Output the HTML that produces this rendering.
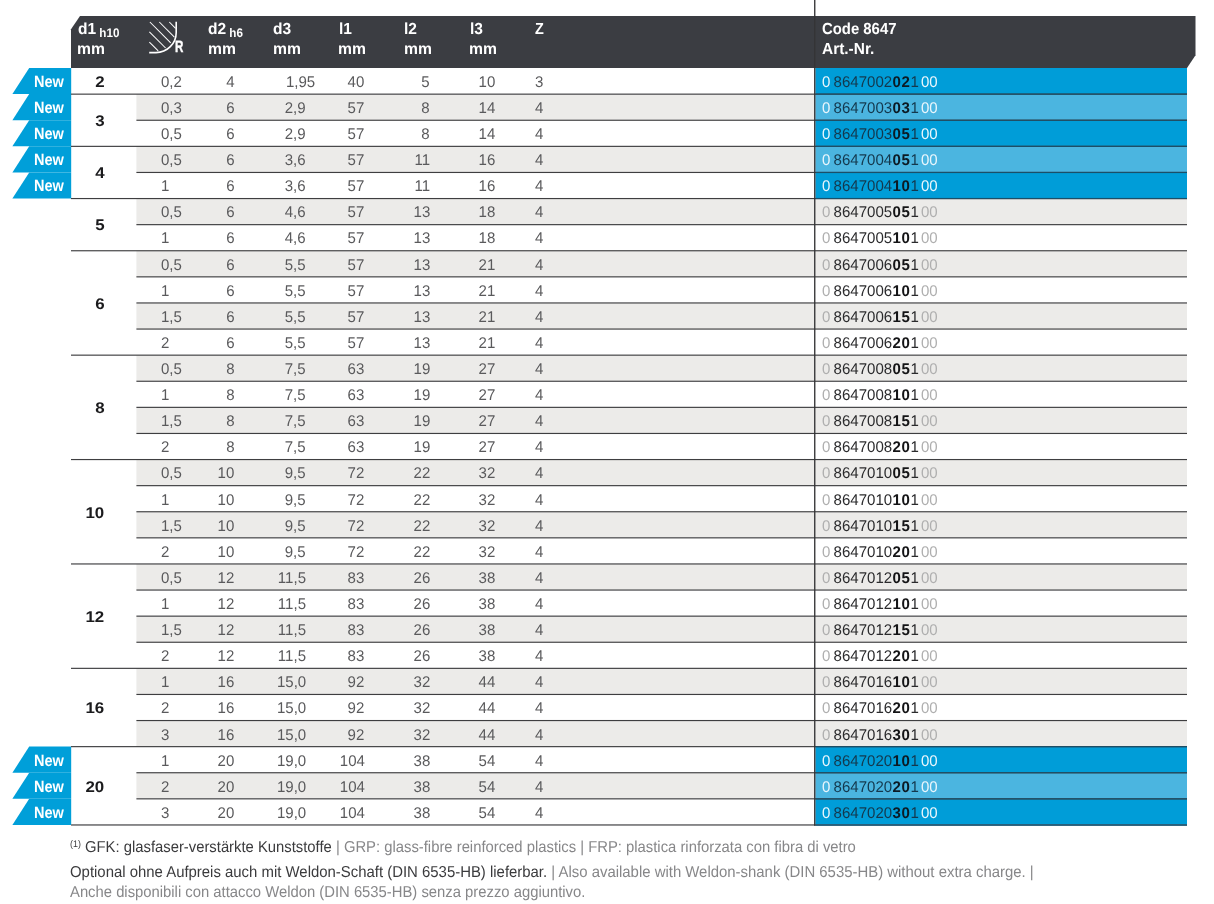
<!DOCTYPE html>
<html><head><meta charset="utf-8"><title>Code 8647</title>
<style>html,body{margin:0;padding:0;background:#fff;}
html{width:1214px;height:904px;overflow:hidden;}
body{width:1214px;height:904px;position:relative;overflow:hidden;font-family:"Liberation Sans",sans-serif;}
#w{position:absolute;left:0;top:0;width:1214px;height:904px;overflow:hidden;will-change:transform;text-rendering:geometricPrecision;}
#s{position:absolute;left:0;top:0;}
.t{position:absolute;white-space:nowrap;line-height:30px;height:30px;}
.h{font-weight:bold;color:#fff;}
.d{color:#5a5a5c;}
.b{font-weight:bold;color:#1b1b1d;}
.c{color:#2b2b2d;word-spacing:-1.0px;}
.c b{color:#141416;letter-spacing:0.55px;margin-left:0.5px;}
.c .z{margin-left:2.2px;}
.c i{font-style:normal;color:#afafaf;}
.cb{color:#14384d;}
.cb b{color:#0c1a24;}
.cb i{color:#eaf6fc;}
.f{color:#878789;}
.f em{font-style:normal;color:#3b3b3d;}
</style></head><body><div id="w">
<svg id="s" width="1214" height="904" viewBox="0 0 1214 904">
<rect x="815.40" y="68.00" width="371.60" height="26.15" fill="#009dd8"/>
<polygon points="29.2,68.00 71.2,68.00 71.2,94.10 12.4,94.10" fill="#009fd9"/>
<rect x="136.40" y="94.10" width="1050.60" height="26.10" fill="#ecebe9"/>
<rect x="815.40" y="94.10" width="371.60" height="26.15" fill="#4bb5e0"/>
<polygon points="29.2,94.10 71.2,94.10 71.2,120.20 12.4,120.20" fill="#009fd9"/>
<rect x="815.40" y="120.20" width="371.60" height="26.15" fill="#009dd8"/>
<polygon points="29.2,120.20 71.2,120.20 71.2,146.30 12.4,146.30" fill="#009fd9"/>
<rect x="136.40" y="146.30" width="1050.60" height="26.10" fill="#ecebe9"/>
<rect x="815.40" y="146.30" width="371.60" height="26.15" fill="#4bb5e0"/>
<polygon points="29.2,146.30 71.2,146.30 71.2,172.40 12.4,172.40" fill="#009fd9"/>
<rect x="815.40" y="172.40" width="371.60" height="26.15" fill="#009dd8"/>
<polygon points="29.2,172.40 71.2,172.40 71.2,198.50 12.4,198.50" fill="#009fd9"/>
<rect x="136.40" y="198.50" width="1050.60" height="26.10" fill="#ecebe9"/>
<rect x="136.40" y="250.70" width="1050.60" height="26.10" fill="#ecebe9"/>
<rect x="136.40" y="302.90" width="1050.60" height="26.10" fill="#ecebe9"/>
<rect x="136.40" y="355.10" width="1050.60" height="26.10" fill="#ecebe9"/>
<rect x="136.40" y="407.30" width="1050.60" height="26.10" fill="#ecebe9"/>
<rect x="136.40" y="459.50" width="1050.60" height="26.10" fill="#ecebe9"/>
<rect x="136.40" y="511.70" width="1050.60" height="26.10" fill="#ecebe9"/>
<rect x="136.40" y="563.90" width="1050.60" height="26.10" fill="#ecebe9"/>
<rect x="136.40" y="616.10" width="1050.60" height="26.10" fill="#ecebe9"/>
<rect x="136.40" y="668.30" width="1050.60" height="26.10" fill="#ecebe9"/>
<rect x="136.40" y="720.50" width="1050.60" height="26.10" fill="#ecebe9"/>
<rect x="815.40" y="746.60" width="371.60" height="26.15" fill="#009dd8"/>
<polygon points="29.2,746.60 71.2,746.60 71.2,772.70 12.4,772.70" fill="#009fd9"/>
<rect x="136.40" y="772.70" width="1050.60" height="26.10" fill="#ecebe9"/>
<rect x="815.40" y="772.70" width="371.60" height="26.15" fill="#4bb5e0"/>
<polygon points="29.2,772.70 71.2,772.70 71.2,798.80 12.4,798.80" fill="#009fd9"/>
<rect x="815.40" y="798.80" width="371.60" height="26.15" fill="#009dd8"/>
<polygon points="29.2,798.80 71.2,798.80 71.2,824.90 12.4,824.90" fill="#009fd9"/>
<polygon points="80,16 1195.5,16 1195.5,55.2 1187,67.95 71,67.95 71,29.3" fill="#3b3d42"/>
<rect x="71.00" y="93.57" width="1116.00" height="1.15" fill="#3e3e40"/>
<rect x="815.40" y="93.57" width="371.60" height="1.15" fill="#1b4f68"/>
<rect x="136.40" y="119.67" width="1050.60" height="1.15" fill="#3e3e40"/>
<rect x="815.40" y="119.67" width="371.60" height="1.15" fill="#1b4f68"/>
<rect x="71.00" y="145.78" width="1116.00" height="1.15" fill="#3e3e40"/>
<rect x="815.40" y="145.78" width="371.60" height="1.15" fill="#1b4f68"/>
<rect x="136.40" y="171.88" width="1050.60" height="1.15" fill="#3e3e40"/>
<rect x="815.40" y="171.88" width="371.60" height="1.15" fill="#1b4f68"/>
<rect x="71.00" y="197.98" width="1116.00" height="1.15" fill="#3e3e40"/>
<rect x="815.40" y="197.98" width="371.60" height="1.15" fill="#1b4f68"/>
<rect x="136.40" y="224.08" width="1050.60" height="1.15" fill="#3e3e40"/>
<rect x="71.00" y="250.18" width="1116.00" height="1.15" fill="#3e3e40"/>
<rect x="136.40" y="276.28" width="1050.60" height="1.15" fill="#3e3e40"/>
<rect x="136.40" y="302.38" width="1050.60" height="1.15" fill="#3e3e40"/>
<rect x="136.40" y="328.48" width="1050.60" height="1.15" fill="#3e3e40"/>
<rect x="71.00" y="354.58" width="1116.00" height="1.15" fill="#3e3e40"/>
<rect x="136.40" y="380.68" width="1050.60" height="1.15" fill="#3e3e40"/>
<rect x="136.40" y="406.78" width="1050.60" height="1.15" fill="#3e3e40"/>
<rect x="136.40" y="432.88" width="1050.60" height="1.15" fill="#3e3e40"/>
<rect x="71.00" y="458.98" width="1116.00" height="1.15" fill="#3e3e40"/>
<rect x="136.40" y="485.08" width="1050.60" height="1.15" fill="#3e3e40"/>
<rect x="136.40" y="511.18" width="1050.60" height="1.15" fill="#3e3e40"/>
<rect x="136.40" y="537.27" width="1050.60" height="1.15" fill="#3e3e40"/>
<rect x="71.00" y="563.38" width="1116.00" height="1.15" fill="#3e3e40"/>
<rect x="136.40" y="589.47" width="1050.60" height="1.15" fill="#3e3e40"/>
<rect x="136.40" y="615.57" width="1050.60" height="1.15" fill="#3e3e40"/>
<rect x="136.40" y="641.67" width="1050.60" height="1.15" fill="#3e3e40"/>
<rect x="71.00" y="667.77" width="1116.00" height="1.15" fill="#3e3e40"/>
<rect x="136.40" y="693.88" width="1050.60" height="1.15" fill="#3e3e40"/>
<rect x="136.40" y="719.97" width="1050.60" height="1.15" fill="#3e3e40"/>
<rect x="71.00" y="746.07" width="1116.00" height="1.15" fill="#3e3e40"/>
<rect x="815.40" y="746.07" width="371.60" height="1.15" fill="#1b4f68"/>
<rect x="136.40" y="772.17" width="1050.60" height="1.15" fill="#3e3e40"/>
<rect x="815.40" y="772.17" width="371.60" height="1.15" fill="#1b4f68"/>
<rect x="136.40" y="798.27" width="1050.60" height="1.15" fill="#3e3e40"/>
<rect x="815.40" y="798.27" width="371.60" height="1.15" fill="#1b4f68"/>
<rect x="71.00" y="824.05" width="1116.00" height="1.8" fill="#818183"/>
<rect x="815.40" y="824.05" width="371.60" height="1.8" fill="#245f7c"/>
<rect x="814.07" y="0" width="1.35" height="825.80" fill="#343436"/>
<g fill="none" stroke="#fff" stroke-linecap="butt"><path d="M149.2,52.6 H156 A20.2,20.2 0 0 0 176.2,32.4 V21.8" stroke-width="1.6"/><g stroke-width="1.05"><path d="M149.4,42.1 L158.2,50.9"/><path d="M149.4,31.8 L165.6,48"/><path d="M149.9,22 L170.7,42.8"/><path d="M159.3,22 L174.4,37.1"/><path d="M169.3,22 L175.6,28.3"/></g></g>
</svg>
<div class="t h" style="top:15px;font-size:16px;left:77.80px;transform-origin:0 50%;transform:scaleX(0.970);">d1&nbsp;<span style="font-size:12.5px;position:relative;top:3px;display:inline-block;margin-left:-1px;transform:scaleX(0.96);transform-origin:0 50%">h10</span></div>
<div class="t h" style="top:35px;font-size:16px;left:77.30px;transform-origin:0 50%;transform:scaleX(0.980);">mm</div>
<div class="t h" style="top:15px;font-size:16px;left:208.40px;transform-origin:0 50%;transform:scaleX(0.970);">d2&nbsp;<span style="font-size:12.5px;position:relative;top:3px;display:inline-block;margin-left:-1px;transform:scaleX(0.96);transform-origin:0 50%">h6</span></div>
<div class="t h" style="top:35px;font-size:16px;left:207.80px;transform-origin:0 50%;transform:scaleX(0.980);">mm</div>
<div class="t h" style="top:15px;font-size:16px;left:273.30px;transform-origin:0 50%;transform:scaleX(0.970);">d3</div>
<div class="t h" style="top:35px;font-size:16px;left:272.90px;transform-origin:0 50%;transform:scaleX(0.980);">mm</div>
<div class="t h" style="top:15px;font-size:16px;left:338.80px;transform-origin:0 50%;transform:scaleX(0.970);">l1</div>
<div class="t h" style="top:35px;font-size:16px;left:338.40px;transform-origin:0 50%;transform:scaleX(0.980);">mm</div>
<div class="t h" style="top:15px;font-size:16px;left:404.20px;transform-origin:0 50%;transform:scaleX(0.970);">l2</div>
<div class="t h" style="top:35px;font-size:16px;left:403.80px;transform-origin:0 50%;transform:scaleX(0.980);">mm</div>
<div class="t h" style="top:15px;font-size:16px;left:469.60px;transform-origin:0 50%;transform:scaleX(0.970);">l3</div>
<div class="t h" style="top:35px;font-size:16px;left:469.20px;transform-origin:0 50%;transform:scaleX(0.980);">mm</div>
<div class="t h" style="top:15px;font-size:16px;left:534.70px;transform-origin:0 50%;transform:scaleX(0.900);">Z</div>
<div class="t h" style="top:15px;font-size:16px;left:822.40px;transform-origin:0 50%;transform:scaleX(0.930);">Code 8647</div>
<div class="t h" style="top:35px;font-size:16px;left:821.90px;transform-origin:0 50%;transform:scaleX(0.965);">Art.-Nr.</div>
<div class="t h" style="top:32px;font-size:16.5px;left:174.90px;transform-origin:0 50%;transform:scaleX(0.700);-webkit-text-stroke:0.45px #fff;">R</div>
<div class="t h" style="top:67px;font-size:16.3px;left:34.00px;transform-origin:0 50%;transform:scaleX(0.893);">New</div>
<div class="t b" style="top:68px;font-size:15.5px;right:1109.60px;transform-origin:100% 50%;transform:scaleX(1.090);">2</div>
<div class="t d" style="top:68px;font-size:15.5px;left:160.80px;transform-origin:0 50%;transform:scaleX(0.970);">0,2</div>
<div class="t d" style="top:68px;font-size:15.5px;right:979.60px;transform-origin:100% 50%;transform:scaleX(0.970);">4</div>
<div class="t d" style="top:68px;font-size:15.5px;right:898.90px;transform-origin:100% 50%;transform:scaleX(0.970);">1,95</div>
<div class="t d" style="top:68px;font-size:15.5px;right:849.40px;transform-origin:100% 50%;transform:scaleX(0.970);">40</div>
<div class="t d" style="top:68px;font-size:15.5px;right:784.10px;transform-origin:100% 50%;transform:scaleX(0.970);">5</div>
<div class="t d" style="top:68px;font-size:15.5px;right:718.50px;transform-origin:100% 50%;transform:scaleX(0.970);">10</div>
<div class="t d" style="top:68px;font-size:15.5px;left:534.60px;transform-origin:0 50%;transform:scaleX(0.970);">3</div>
<div class="t c cb" style="top:68px;font-size:15.5px;left:822.20px;transform-origin:0 50%;transform:scaleX(0.970);"><i>0</i> 8647002<b>02</b>1<i class="z">00</i></div>
<div class="t h" style="top:93px;font-size:16.3px;left:34.00px;transform-origin:0 50%;transform:scaleX(0.893);">New</div>
<div class="t b" style="top:107px;font-size:15.5px;right:1109.60px;transform-origin:100% 50%;transform:scaleX(1.090);">3</div>
<div class="t d" style="top:94px;font-size:15.5px;left:160.80px;transform-origin:0 50%;transform:scaleX(0.970);">0,3</div>
<div class="t d" style="top:94px;font-size:15.5px;right:979.60px;transform-origin:100% 50%;transform:scaleX(0.970);">6</div>
<div class="t d" style="top:94px;font-size:15.5px;right:908.30px;transform-origin:100% 50%;transform:scaleX(0.970);">2,9</div>
<div class="t d" style="top:94px;font-size:15.5px;right:849.40px;transform-origin:100% 50%;transform:scaleX(0.970);">57</div>
<div class="t d" style="top:94px;font-size:15.5px;right:784.10px;transform-origin:100% 50%;transform:scaleX(0.970);">8</div>
<div class="t d" style="top:94px;font-size:15.5px;right:718.50px;transform-origin:100% 50%;transform:scaleX(0.970);">14</div>
<div class="t d" style="top:94px;font-size:15.5px;left:534.60px;transform-origin:0 50%;transform:scaleX(0.970);">4</div>
<div class="t c cb" style="top:94px;font-size:15.5px;left:822.20px;transform-origin:0 50%;transform:scaleX(0.970);"><i>0</i> 8647003<b>03</b>1<i class="z">00</i></div>
<div class="t h" style="top:119px;font-size:16.3px;left:34.00px;transform-origin:0 50%;transform:scaleX(0.893);">New</div>
<div class="t d" style="top:120px;font-size:15.5px;left:160.80px;transform-origin:0 50%;transform:scaleX(0.970);">0,5</div>
<div class="t d" style="top:120px;font-size:15.5px;right:979.60px;transform-origin:100% 50%;transform:scaleX(0.970);">6</div>
<div class="t d" style="top:120px;font-size:15.5px;right:908.30px;transform-origin:100% 50%;transform:scaleX(0.970);">2,9</div>
<div class="t d" style="top:120px;font-size:15.5px;right:849.40px;transform-origin:100% 50%;transform:scaleX(0.970);">57</div>
<div class="t d" style="top:120px;font-size:15.5px;right:784.10px;transform-origin:100% 50%;transform:scaleX(0.970);">8</div>
<div class="t d" style="top:120px;font-size:15.5px;right:718.50px;transform-origin:100% 50%;transform:scaleX(0.970);">14</div>
<div class="t d" style="top:120px;font-size:15.5px;left:534.60px;transform-origin:0 50%;transform:scaleX(0.970);">4</div>
<div class="t c cb" style="top:120px;font-size:15.5px;left:822.20px;transform-origin:0 50%;transform:scaleX(0.970);"><i>0</i> 8647003<b>05</b>1<i class="z">00</i></div>
<div class="t h" style="top:145px;font-size:16.3px;left:34.00px;transform-origin:0 50%;transform:scaleX(0.893);">New</div>
<div class="t b" style="top:159px;font-size:15.5px;right:1109.60px;transform-origin:100% 50%;transform:scaleX(1.090);">4</div>
<div class="t d" style="top:146px;font-size:15.5px;left:160.80px;transform-origin:0 50%;transform:scaleX(0.970);">0,5</div>
<div class="t d" style="top:146px;font-size:15.5px;right:979.60px;transform-origin:100% 50%;transform:scaleX(0.970);">6</div>
<div class="t d" style="top:146px;font-size:15.5px;right:908.30px;transform-origin:100% 50%;transform:scaleX(0.970);">3,6</div>
<div class="t d" style="top:146px;font-size:15.5px;right:849.40px;transform-origin:100% 50%;transform:scaleX(0.970);">57</div>
<div class="t d" style="top:146px;font-size:15.5px;right:784.10px;transform-origin:100% 50%;transform:scaleX(0.970);">11</div>
<div class="t d" style="top:146px;font-size:15.5px;right:718.50px;transform-origin:100% 50%;transform:scaleX(0.970);">16</div>
<div class="t d" style="top:146px;font-size:15.5px;left:534.60px;transform-origin:0 50%;transform:scaleX(0.970);">4</div>
<div class="t c cb" style="top:146px;font-size:15.5px;left:822.20px;transform-origin:0 50%;transform:scaleX(0.970);"><i>0</i> 8647004<b>05</b>1<i class="z">00</i></div>
<div class="t h" style="top:171px;font-size:16.3px;left:34.00px;transform-origin:0 50%;transform:scaleX(0.893);">New</div>
<div class="t d" style="top:172px;font-size:15.5px;left:160.80px;transform-origin:0 50%;transform:scaleX(0.970);">1</div>
<div class="t d" style="top:172px;font-size:15.5px;right:979.60px;transform-origin:100% 50%;transform:scaleX(0.970);">6</div>
<div class="t d" style="top:172px;font-size:15.5px;right:908.30px;transform-origin:100% 50%;transform:scaleX(0.970);">3,6</div>
<div class="t d" style="top:172px;font-size:15.5px;right:849.40px;transform-origin:100% 50%;transform:scaleX(0.970);">57</div>
<div class="t d" style="top:172px;font-size:15.5px;right:784.10px;transform-origin:100% 50%;transform:scaleX(0.970);">11</div>
<div class="t d" style="top:172px;font-size:15.5px;right:718.50px;transform-origin:100% 50%;transform:scaleX(0.970);">16</div>
<div class="t d" style="top:172px;font-size:15.5px;left:534.60px;transform-origin:0 50%;transform:scaleX(0.970);">4</div>
<div class="t c cb" style="top:172px;font-size:15.5px;left:822.20px;transform-origin:0 50%;transform:scaleX(0.970);"><i>0</i> 8647004<b>10</b>1<i class="z">00</i></div>
<div class="t b" style="top:211px;font-size:15.5px;right:1109.60px;transform-origin:100% 50%;transform:scaleX(1.090);">5</div>
<div class="t d" style="top:198px;font-size:15.5px;left:160.80px;transform-origin:0 50%;transform:scaleX(0.970);">0,5</div>
<div class="t d" style="top:198px;font-size:15.5px;right:979.60px;transform-origin:100% 50%;transform:scaleX(0.970);">6</div>
<div class="t d" style="top:198px;font-size:15.5px;right:908.30px;transform-origin:100% 50%;transform:scaleX(0.970);">4,6</div>
<div class="t d" style="top:198px;font-size:15.5px;right:849.40px;transform-origin:100% 50%;transform:scaleX(0.970);">57</div>
<div class="t d" style="top:198px;font-size:15.5px;right:784.10px;transform-origin:100% 50%;transform:scaleX(0.970);">13</div>
<div class="t d" style="top:198px;font-size:15.5px;right:718.50px;transform-origin:100% 50%;transform:scaleX(0.970);">18</div>
<div class="t d" style="top:198px;font-size:15.5px;left:534.60px;transform-origin:0 50%;transform:scaleX(0.970);">4</div>
<div class="t c" style="top:198px;font-size:15.5px;left:822.20px;transform-origin:0 50%;transform:scaleX(0.970);"><i>0</i> 8647005<b>05</b>1<i class="z">00</i></div>
<div class="t d" style="top:224px;font-size:15.5px;left:160.80px;transform-origin:0 50%;transform:scaleX(0.970);">1</div>
<div class="t d" style="top:224px;font-size:15.5px;right:979.60px;transform-origin:100% 50%;transform:scaleX(0.970);">6</div>
<div class="t d" style="top:224px;font-size:15.5px;right:908.30px;transform-origin:100% 50%;transform:scaleX(0.970);">4,6</div>
<div class="t d" style="top:224px;font-size:15.5px;right:849.40px;transform-origin:100% 50%;transform:scaleX(0.970);">57</div>
<div class="t d" style="top:224px;font-size:15.5px;right:784.10px;transform-origin:100% 50%;transform:scaleX(0.970);">13</div>
<div class="t d" style="top:224px;font-size:15.5px;right:718.50px;transform-origin:100% 50%;transform:scaleX(0.970);">18</div>
<div class="t d" style="top:224px;font-size:15.5px;left:534.60px;transform-origin:0 50%;transform:scaleX(0.970);">4</div>
<div class="t c" style="top:224px;font-size:15.5px;left:822.20px;transform-origin:0 50%;transform:scaleX(0.970);"><i>0</i> 8647005<b>10</b>1<i class="z">00</i></div>
<div class="t b" style="top:290px;font-size:15.5px;right:1109.60px;transform-origin:100% 50%;transform:scaleX(1.090);">6</div>
<div class="t d" style="top:251px;font-size:15.5px;left:160.80px;transform-origin:0 50%;transform:scaleX(0.970);">0,5</div>
<div class="t d" style="top:251px;font-size:15.5px;right:979.60px;transform-origin:100% 50%;transform:scaleX(0.970);">6</div>
<div class="t d" style="top:251px;font-size:15.5px;right:908.30px;transform-origin:100% 50%;transform:scaleX(0.970);">5,5</div>
<div class="t d" style="top:251px;font-size:15.5px;right:849.40px;transform-origin:100% 50%;transform:scaleX(0.970);">57</div>
<div class="t d" style="top:251px;font-size:15.5px;right:784.10px;transform-origin:100% 50%;transform:scaleX(0.970);">13</div>
<div class="t d" style="top:251px;font-size:15.5px;right:718.50px;transform-origin:100% 50%;transform:scaleX(0.970);">21</div>
<div class="t d" style="top:251px;font-size:15.5px;left:534.60px;transform-origin:0 50%;transform:scaleX(0.970);">4</div>
<div class="t c" style="top:251px;font-size:15.5px;left:822.20px;transform-origin:0 50%;transform:scaleX(0.970);"><i>0</i> 8647006<b>05</b>1<i class="z">00</i></div>
<div class="t d" style="top:277px;font-size:15.5px;left:160.80px;transform-origin:0 50%;transform:scaleX(0.970);">1</div>
<div class="t d" style="top:277px;font-size:15.5px;right:979.60px;transform-origin:100% 50%;transform:scaleX(0.970);">6</div>
<div class="t d" style="top:277px;font-size:15.5px;right:908.30px;transform-origin:100% 50%;transform:scaleX(0.970);">5,5</div>
<div class="t d" style="top:277px;font-size:15.5px;right:849.40px;transform-origin:100% 50%;transform:scaleX(0.970);">57</div>
<div class="t d" style="top:277px;font-size:15.5px;right:784.10px;transform-origin:100% 50%;transform:scaleX(0.970);">13</div>
<div class="t d" style="top:277px;font-size:15.5px;right:718.50px;transform-origin:100% 50%;transform:scaleX(0.970);">21</div>
<div class="t d" style="top:277px;font-size:15.5px;left:534.60px;transform-origin:0 50%;transform:scaleX(0.970);">4</div>
<div class="t c" style="top:277px;font-size:15.5px;left:822.20px;transform-origin:0 50%;transform:scaleX(0.970);"><i>0</i> 8647006<b>10</b>1<i class="z">00</i></div>
<div class="t d" style="top:303px;font-size:15.5px;left:160.80px;transform-origin:0 50%;transform:scaleX(0.970);">1,5</div>
<div class="t d" style="top:303px;font-size:15.5px;right:979.60px;transform-origin:100% 50%;transform:scaleX(0.970);">6</div>
<div class="t d" style="top:303px;font-size:15.5px;right:908.30px;transform-origin:100% 50%;transform:scaleX(0.970);">5,5</div>
<div class="t d" style="top:303px;font-size:15.5px;right:849.40px;transform-origin:100% 50%;transform:scaleX(0.970);">57</div>
<div class="t d" style="top:303px;font-size:15.5px;right:784.10px;transform-origin:100% 50%;transform:scaleX(0.970);">13</div>
<div class="t d" style="top:303px;font-size:15.5px;right:718.50px;transform-origin:100% 50%;transform:scaleX(0.970);">21</div>
<div class="t d" style="top:303px;font-size:15.5px;left:534.60px;transform-origin:0 50%;transform:scaleX(0.970);">4</div>
<div class="t c" style="top:303px;font-size:15.5px;left:822.20px;transform-origin:0 50%;transform:scaleX(0.970);"><i>0</i> 8647006<b>15</b>1<i class="z">00</i></div>
<div class="t d" style="top:329px;font-size:15.5px;left:160.80px;transform-origin:0 50%;transform:scaleX(0.970);">2</div>
<div class="t d" style="top:329px;font-size:15.5px;right:979.60px;transform-origin:100% 50%;transform:scaleX(0.970);">6</div>
<div class="t d" style="top:329px;font-size:15.5px;right:908.30px;transform-origin:100% 50%;transform:scaleX(0.970);">5,5</div>
<div class="t d" style="top:329px;font-size:15.5px;right:849.40px;transform-origin:100% 50%;transform:scaleX(0.970);">57</div>
<div class="t d" style="top:329px;font-size:15.5px;right:784.10px;transform-origin:100% 50%;transform:scaleX(0.970);">13</div>
<div class="t d" style="top:329px;font-size:15.5px;right:718.50px;transform-origin:100% 50%;transform:scaleX(0.970);">21</div>
<div class="t d" style="top:329px;font-size:15.5px;left:534.60px;transform-origin:0 50%;transform:scaleX(0.970);">4</div>
<div class="t c" style="top:329px;font-size:15.5px;left:822.20px;transform-origin:0 50%;transform:scaleX(0.970);"><i>0</i> 8647006<b>20</b>1<i class="z">00</i></div>
<div class="t b" style="top:394px;font-size:15.5px;right:1109.60px;transform-origin:100% 50%;transform:scaleX(1.090);">8</div>
<div class="t d" style="top:355px;font-size:15.5px;left:160.80px;transform-origin:0 50%;transform:scaleX(0.970);">0,5</div>
<div class="t d" style="top:355px;font-size:15.5px;right:979.60px;transform-origin:100% 50%;transform:scaleX(0.970);">8</div>
<div class="t d" style="top:355px;font-size:15.5px;right:908.30px;transform-origin:100% 50%;transform:scaleX(0.970);">7,5</div>
<div class="t d" style="top:355px;font-size:15.5px;right:849.40px;transform-origin:100% 50%;transform:scaleX(0.970);">63</div>
<div class="t d" style="top:355px;font-size:15.5px;right:784.10px;transform-origin:100% 50%;transform:scaleX(0.970);">19</div>
<div class="t d" style="top:355px;font-size:15.5px;right:718.50px;transform-origin:100% 50%;transform:scaleX(0.970);">27</div>
<div class="t d" style="top:355px;font-size:15.5px;left:534.60px;transform-origin:0 50%;transform:scaleX(0.970);">4</div>
<div class="t c" style="top:355px;font-size:15.5px;left:822.20px;transform-origin:0 50%;transform:scaleX(0.970);"><i>0</i> 8647008<b>05</b>1<i class="z">00</i></div>
<div class="t d" style="top:381px;font-size:15.5px;left:160.80px;transform-origin:0 50%;transform:scaleX(0.970);">1</div>
<div class="t d" style="top:381px;font-size:15.5px;right:979.60px;transform-origin:100% 50%;transform:scaleX(0.970);">8</div>
<div class="t d" style="top:381px;font-size:15.5px;right:908.30px;transform-origin:100% 50%;transform:scaleX(0.970);">7,5</div>
<div class="t d" style="top:381px;font-size:15.5px;right:849.40px;transform-origin:100% 50%;transform:scaleX(0.970);">63</div>
<div class="t d" style="top:381px;font-size:15.5px;right:784.10px;transform-origin:100% 50%;transform:scaleX(0.970);">19</div>
<div class="t d" style="top:381px;font-size:15.5px;right:718.50px;transform-origin:100% 50%;transform:scaleX(0.970);">27</div>
<div class="t d" style="top:381px;font-size:15.5px;left:534.60px;transform-origin:0 50%;transform:scaleX(0.970);">4</div>
<div class="t c" style="top:381px;font-size:15.5px;left:822.20px;transform-origin:0 50%;transform:scaleX(0.970);"><i>0</i> 8647008<b>10</b>1<i class="z">00</i></div>
<div class="t d" style="top:407px;font-size:15.5px;left:160.80px;transform-origin:0 50%;transform:scaleX(0.970);">1,5</div>
<div class="t d" style="top:407px;font-size:15.5px;right:979.60px;transform-origin:100% 50%;transform:scaleX(0.970);">8</div>
<div class="t d" style="top:407px;font-size:15.5px;right:908.30px;transform-origin:100% 50%;transform:scaleX(0.970);">7,5</div>
<div class="t d" style="top:407px;font-size:15.5px;right:849.40px;transform-origin:100% 50%;transform:scaleX(0.970);">63</div>
<div class="t d" style="top:407px;font-size:15.5px;right:784.10px;transform-origin:100% 50%;transform:scaleX(0.970);">19</div>
<div class="t d" style="top:407px;font-size:15.5px;right:718.50px;transform-origin:100% 50%;transform:scaleX(0.970);">27</div>
<div class="t d" style="top:407px;font-size:15.5px;left:534.60px;transform-origin:0 50%;transform:scaleX(0.970);">4</div>
<div class="t c" style="top:407px;font-size:15.5px;left:822.20px;transform-origin:0 50%;transform:scaleX(0.970);"><i>0</i> 8647008<b>15</b>1<i class="z">00</i></div>
<div class="t d" style="top:433px;font-size:15.5px;left:160.80px;transform-origin:0 50%;transform:scaleX(0.970);">2</div>
<div class="t d" style="top:433px;font-size:15.5px;right:979.60px;transform-origin:100% 50%;transform:scaleX(0.970);">8</div>
<div class="t d" style="top:433px;font-size:15.5px;right:908.30px;transform-origin:100% 50%;transform:scaleX(0.970);">7,5</div>
<div class="t d" style="top:433px;font-size:15.5px;right:849.40px;transform-origin:100% 50%;transform:scaleX(0.970);">63</div>
<div class="t d" style="top:433px;font-size:15.5px;right:784.10px;transform-origin:100% 50%;transform:scaleX(0.970);">19</div>
<div class="t d" style="top:433px;font-size:15.5px;right:718.50px;transform-origin:100% 50%;transform:scaleX(0.970);">27</div>
<div class="t d" style="top:433px;font-size:15.5px;left:534.60px;transform-origin:0 50%;transform:scaleX(0.970);">4</div>
<div class="t c" style="top:433px;font-size:15.5px;left:822.20px;transform-origin:0 50%;transform:scaleX(0.970);"><i>0</i> 8647008<b>20</b>1<i class="z">00</i></div>
<div class="t b" style="top:499px;font-size:15.5px;right:1109.60px;transform-origin:100% 50%;transform:scaleX(1.090);">10</div>
<div class="t d" style="top:459px;font-size:15.5px;left:160.80px;transform-origin:0 50%;transform:scaleX(0.970);">0,5</div>
<div class="t d" style="top:459px;font-size:15.5px;right:979.60px;transform-origin:100% 50%;transform:scaleX(0.970);">10</div>
<div class="t d" style="top:459px;font-size:15.5px;right:908.30px;transform-origin:100% 50%;transform:scaleX(0.970);">9,5</div>
<div class="t d" style="top:459px;font-size:15.5px;right:849.40px;transform-origin:100% 50%;transform:scaleX(0.970);">72</div>
<div class="t d" style="top:459px;font-size:15.5px;right:784.10px;transform-origin:100% 50%;transform:scaleX(0.970);">22</div>
<div class="t d" style="top:459px;font-size:15.5px;right:718.50px;transform-origin:100% 50%;transform:scaleX(0.970);">32</div>
<div class="t d" style="top:459px;font-size:15.5px;left:534.60px;transform-origin:0 50%;transform:scaleX(0.970);">4</div>
<div class="t c" style="top:459px;font-size:15.5px;left:822.20px;transform-origin:0 50%;transform:scaleX(0.970);"><i>0</i> 8647010<b>05</b>1<i class="z">00</i></div>
<div class="t d" style="top:486px;font-size:15.5px;left:160.80px;transform-origin:0 50%;transform:scaleX(0.970);">1</div>
<div class="t d" style="top:486px;font-size:15.5px;right:979.60px;transform-origin:100% 50%;transform:scaleX(0.970);">10</div>
<div class="t d" style="top:486px;font-size:15.5px;right:908.30px;transform-origin:100% 50%;transform:scaleX(0.970);">9,5</div>
<div class="t d" style="top:486px;font-size:15.5px;right:849.40px;transform-origin:100% 50%;transform:scaleX(0.970);">72</div>
<div class="t d" style="top:486px;font-size:15.5px;right:784.10px;transform-origin:100% 50%;transform:scaleX(0.970);">22</div>
<div class="t d" style="top:486px;font-size:15.5px;right:718.50px;transform-origin:100% 50%;transform:scaleX(0.970);">32</div>
<div class="t d" style="top:486px;font-size:15.5px;left:534.60px;transform-origin:0 50%;transform:scaleX(0.970);">4</div>
<div class="t c" style="top:486px;font-size:15.5px;left:822.20px;transform-origin:0 50%;transform:scaleX(0.970);"><i>0</i> 8647010<b>10</b>1<i class="z">00</i></div>
<div class="t d" style="top:512px;font-size:15.5px;left:160.80px;transform-origin:0 50%;transform:scaleX(0.970);">1,5</div>
<div class="t d" style="top:512px;font-size:15.5px;right:979.60px;transform-origin:100% 50%;transform:scaleX(0.970);">10</div>
<div class="t d" style="top:512px;font-size:15.5px;right:908.30px;transform-origin:100% 50%;transform:scaleX(0.970);">9,5</div>
<div class="t d" style="top:512px;font-size:15.5px;right:849.40px;transform-origin:100% 50%;transform:scaleX(0.970);">72</div>
<div class="t d" style="top:512px;font-size:15.5px;right:784.10px;transform-origin:100% 50%;transform:scaleX(0.970);">22</div>
<div class="t d" style="top:512px;font-size:15.5px;right:718.50px;transform-origin:100% 50%;transform:scaleX(0.970);">32</div>
<div class="t d" style="top:512px;font-size:15.5px;left:534.60px;transform-origin:0 50%;transform:scaleX(0.970);">4</div>
<div class="t c" style="top:512px;font-size:15.5px;left:822.20px;transform-origin:0 50%;transform:scaleX(0.970);"><i>0</i> 8647010<b>15</b>1<i class="z">00</i></div>
<div class="t d" style="top:538px;font-size:15.5px;left:160.80px;transform-origin:0 50%;transform:scaleX(0.970);">2</div>
<div class="t d" style="top:538px;font-size:15.5px;right:979.60px;transform-origin:100% 50%;transform:scaleX(0.970);">10</div>
<div class="t d" style="top:538px;font-size:15.5px;right:908.30px;transform-origin:100% 50%;transform:scaleX(0.970);">9,5</div>
<div class="t d" style="top:538px;font-size:15.5px;right:849.40px;transform-origin:100% 50%;transform:scaleX(0.970);">72</div>
<div class="t d" style="top:538px;font-size:15.5px;right:784.10px;transform-origin:100% 50%;transform:scaleX(0.970);">22</div>
<div class="t d" style="top:538px;font-size:15.5px;right:718.50px;transform-origin:100% 50%;transform:scaleX(0.970);">32</div>
<div class="t d" style="top:538px;font-size:15.5px;left:534.60px;transform-origin:0 50%;transform:scaleX(0.970);">4</div>
<div class="t c" style="top:538px;font-size:15.5px;left:822.20px;transform-origin:0 50%;transform:scaleX(0.970);"><i>0</i> 8647010<b>20</b>1<i class="z">00</i></div>
<div class="t b" style="top:603px;font-size:15.5px;right:1109.60px;transform-origin:100% 50%;transform:scaleX(1.090);">12</div>
<div class="t d" style="top:564px;font-size:15.5px;left:160.80px;transform-origin:0 50%;transform:scaleX(0.970);">0,5</div>
<div class="t d" style="top:564px;font-size:15.5px;right:979.60px;transform-origin:100% 50%;transform:scaleX(0.970);">12</div>
<div class="t d" style="top:564px;font-size:15.5px;right:908.30px;transform-origin:100% 50%;transform:scaleX(0.970);">11,5</div>
<div class="t d" style="top:564px;font-size:15.5px;right:849.40px;transform-origin:100% 50%;transform:scaleX(0.970);">83</div>
<div class="t d" style="top:564px;font-size:15.5px;right:784.10px;transform-origin:100% 50%;transform:scaleX(0.970);">26</div>
<div class="t d" style="top:564px;font-size:15.5px;right:718.50px;transform-origin:100% 50%;transform:scaleX(0.970);">38</div>
<div class="t d" style="top:564px;font-size:15.5px;left:534.60px;transform-origin:0 50%;transform:scaleX(0.970);">4</div>
<div class="t c" style="top:564px;font-size:15.5px;left:822.20px;transform-origin:0 50%;transform:scaleX(0.970);"><i>0</i> 8647012<b>05</b>1<i class="z">00</i></div>
<div class="t d" style="top:590px;font-size:15.5px;left:160.80px;transform-origin:0 50%;transform:scaleX(0.970);">1</div>
<div class="t d" style="top:590px;font-size:15.5px;right:979.60px;transform-origin:100% 50%;transform:scaleX(0.970);">12</div>
<div class="t d" style="top:590px;font-size:15.5px;right:908.30px;transform-origin:100% 50%;transform:scaleX(0.970);">11,5</div>
<div class="t d" style="top:590px;font-size:15.5px;right:849.40px;transform-origin:100% 50%;transform:scaleX(0.970);">83</div>
<div class="t d" style="top:590px;font-size:15.5px;right:784.10px;transform-origin:100% 50%;transform:scaleX(0.970);">26</div>
<div class="t d" style="top:590px;font-size:15.5px;right:718.50px;transform-origin:100% 50%;transform:scaleX(0.970);">38</div>
<div class="t d" style="top:590px;font-size:15.5px;left:534.60px;transform-origin:0 50%;transform:scaleX(0.970);">4</div>
<div class="t c" style="top:590px;font-size:15.5px;left:822.20px;transform-origin:0 50%;transform:scaleX(0.970);"><i>0</i> 8647012<b>10</b>1<i class="z">00</i></div>
<div class="t d" style="top:616px;font-size:15.5px;left:160.80px;transform-origin:0 50%;transform:scaleX(0.970);">1,5</div>
<div class="t d" style="top:616px;font-size:15.5px;right:979.60px;transform-origin:100% 50%;transform:scaleX(0.970);">12</div>
<div class="t d" style="top:616px;font-size:15.5px;right:908.30px;transform-origin:100% 50%;transform:scaleX(0.970);">11,5</div>
<div class="t d" style="top:616px;font-size:15.5px;right:849.40px;transform-origin:100% 50%;transform:scaleX(0.970);">83</div>
<div class="t d" style="top:616px;font-size:15.5px;right:784.10px;transform-origin:100% 50%;transform:scaleX(0.970);">26</div>
<div class="t d" style="top:616px;font-size:15.5px;right:718.50px;transform-origin:100% 50%;transform:scaleX(0.970);">38</div>
<div class="t d" style="top:616px;font-size:15.5px;left:534.60px;transform-origin:0 50%;transform:scaleX(0.970);">4</div>
<div class="t c" style="top:616px;font-size:15.5px;left:822.20px;transform-origin:0 50%;transform:scaleX(0.970);"><i>0</i> 8647012<b>15</b>1<i class="z">00</i></div>
<div class="t d" style="top:642px;font-size:15.5px;left:160.80px;transform-origin:0 50%;transform:scaleX(0.970);">2</div>
<div class="t d" style="top:642px;font-size:15.5px;right:979.60px;transform-origin:100% 50%;transform:scaleX(0.970);">12</div>
<div class="t d" style="top:642px;font-size:15.5px;right:908.30px;transform-origin:100% 50%;transform:scaleX(0.970);">11,5</div>
<div class="t d" style="top:642px;font-size:15.5px;right:849.40px;transform-origin:100% 50%;transform:scaleX(0.970);">83</div>
<div class="t d" style="top:642px;font-size:15.5px;right:784.10px;transform-origin:100% 50%;transform:scaleX(0.970);">26</div>
<div class="t d" style="top:642px;font-size:15.5px;right:718.50px;transform-origin:100% 50%;transform:scaleX(0.970);">38</div>
<div class="t d" style="top:642px;font-size:15.5px;left:534.60px;transform-origin:0 50%;transform:scaleX(0.970);">4</div>
<div class="t c" style="top:642px;font-size:15.5px;left:822.20px;transform-origin:0 50%;transform:scaleX(0.970);"><i>0</i> 8647012<b>20</b>1<i class="z">00</i></div>
<div class="t b" style="top:694px;font-size:15.5px;right:1109.60px;transform-origin:100% 50%;transform:scaleX(1.090);">16</div>
<div class="t d" style="top:668px;font-size:15.5px;left:160.80px;transform-origin:0 50%;transform:scaleX(0.970);">1</div>
<div class="t d" style="top:668px;font-size:15.5px;right:979.60px;transform-origin:100% 50%;transform:scaleX(0.970);">16</div>
<div class="t d" style="top:668px;font-size:15.5px;right:908.30px;transform-origin:100% 50%;transform:scaleX(0.970);">15,0</div>
<div class="t d" style="top:668px;font-size:15.5px;right:849.40px;transform-origin:100% 50%;transform:scaleX(0.970);">92</div>
<div class="t d" style="top:668px;font-size:15.5px;right:784.10px;transform-origin:100% 50%;transform:scaleX(0.970);">32</div>
<div class="t d" style="top:668px;font-size:15.5px;right:718.50px;transform-origin:100% 50%;transform:scaleX(0.970);">44</div>
<div class="t d" style="top:668px;font-size:15.5px;left:534.60px;transform-origin:0 50%;transform:scaleX(0.970);">4</div>
<div class="t c" style="top:668px;font-size:15.5px;left:822.20px;transform-origin:0 50%;transform:scaleX(0.970);"><i>0</i> 8647016<b>10</b>1<i class="z">00</i></div>
<div class="t d" style="top:694px;font-size:15.5px;left:160.80px;transform-origin:0 50%;transform:scaleX(0.970);">2</div>
<div class="t d" style="top:694px;font-size:15.5px;right:979.60px;transform-origin:100% 50%;transform:scaleX(0.970);">16</div>
<div class="t d" style="top:694px;font-size:15.5px;right:908.30px;transform-origin:100% 50%;transform:scaleX(0.970);">15,0</div>
<div class="t d" style="top:694px;font-size:15.5px;right:849.40px;transform-origin:100% 50%;transform:scaleX(0.970);">92</div>
<div class="t d" style="top:694px;font-size:15.5px;right:784.10px;transform-origin:100% 50%;transform:scaleX(0.970);">32</div>
<div class="t d" style="top:694px;font-size:15.5px;right:718.50px;transform-origin:100% 50%;transform:scaleX(0.970);">44</div>
<div class="t d" style="top:694px;font-size:15.5px;left:534.60px;transform-origin:0 50%;transform:scaleX(0.970);">4</div>
<div class="t c" style="top:694px;font-size:15.5px;left:822.20px;transform-origin:0 50%;transform:scaleX(0.970);"><i>0</i> 8647016<b>20</b>1<i class="z">00</i></div>
<div class="t d" style="top:721px;font-size:15.5px;left:160.80px;transform-origin:0 50%;transform:scaleX(0.970);">3</div>
<div class="t d" style="top:721px;font-size:15.5px;right:979.60px;transform-origin:100% 50%;transform:scaleX(0.970);">16</div>
<div class="t d" style="top:721px;font-size:15.5px;right:908.30px;transform-origin:100% 50%;transform:scaleX(0.970);">15,0</div>
<div class="t d" style="top:721px;font-size:15.5px;right:849.40px;transform-origin:100% 50%;transform:scaleX(0.970);">92</div>
<div class="t d" style="top:721px;font-size:15.5px;right:784.10px;transform-origin:100% 50%;transform:scaleX(0.970);">32</div>
<div class="t d" style="top:721px;font-size:15.5px;right:718.50px;transform-origin:100% 50%;transform:scaleX(0.970);">44</div>
<div class="t d" style="top:721px;font-size:15.5px;left:534.60px;transform-origin:0 50%;transform:scaleX(0.970);">4</div>
<div class="t c" style="top:721px;font-size:15.5px;left:822.20px;transform-origin:0 50%;transform:scaleX(0.970);"><i>0</i> 8647016<b>30</b>1<i class="z">00</i></div>
<div class="t h" style="top:746px;font-size:16.3px;left:34.00px;transform-origin:0 50%;transform:scaleX(0.893);">New</div>
<div class="t b" style="top:773px;font-size:15.5px;right:1109.60px;transform-origin:100% 50%;transform:scaleX(1.090);">20</div>
<div class="t d" style="top:747px;font-size:15.5px;left:160.80px;transform-origin:0 50%;transform:scaleX(0.970);">1</div>
<div class="t d" style="top:747px;font-size:15.5px;right:979.60px;transform-origin:100% 50%;transform:scaleX(0.970);">20</div>
<div class="t d" style="top:747px;font-size:15.5px;right:908.30px;transform-origin:100% 50%;transform:scaleX(0.970);">19,0</div>
<div class="t d" style="top:747px;font-size:15.5px;right:849.40px;transform-origin:100% 50%;transform:scaleX(0.970);">104</div>
<div class="t d" style="top:747px;font-size:15.5px;right:784.10px;transform-origin:100% 50%;transform:scaleX(0.970);">38</div>
<div class="t d" style="top:747px;font-size:15.5px;right:718.50px;transform-origin:100% 50%;transform:scaleX(0.970);">54</div>
<div class="t d" style="top:747px;font-size:15.5px;left:534.60px;transform-origin:0 50%;transform:scaleX(0.970);">4</div>
<div class="t c cb" style="top:747px;font-size:15.5px;left:822.20px;transform-origin:0 50%;transform:scaleX(0.970);"><i>0</i> 8647020<b>10</b>1<i class="z">00</i></div>
<div class="t h" style="top:772px;font-size:16.3px;left:34.00px;transform-origin:0 50%;transform:scaleX(0.893);">New</div>
<div class="t d" style="top:773px;font-size:15.5px;left:160.80px;transform-origin:0 50%;transform:scaleX(0.970);">2</div>
<div class="t d" style="top:773px;font-size:15.5px;right:979.60px;transform-origin:100% 50%;transform:scaleX(0.970);">20</div>
<div class="t d" style="top:773px;font-size:15.5px;right:908.30px;transform-origin:100% 50%;transform:scaleX(0.970);">19,0</div>
<div class="t d" style="top:773px;font-size:15.5px;right:849.40px;transform-origin:100% 50%;transform:scaleX(0.970);">104</div>
<div class="t d" style="top:773px;font-size:15.5px;right:784.10px;transform-origin:100% 50%;transform:scaleX(0.970);">38</div>
<div class="t d" style="top:773px;font-size:15.5px;right:718.50px;transform-origin:100% 50%;transform:scaleX(0.970);">54</div>
<div class="t d" style="top:773px;font-size:15.5px;left:534.60px;transform-origin:0 50%;transform:scaleX(0.970);">4</div>
<div class="t c cb" style="top:773px;font-size:15.5px;left:822.20px;transform-origin:0 50%;transform:scaleX(0.970);"><i>0</i> 8647020<b>20</b>1<i class="z">00</i></div>
<div class="t h" style="top:798px;font-size:16.3px;left:34.00px;transform-origin:0 50%;transform:scaleX(0.893);">New</div>
<div class="t d" style="top:799px;font-size:15.5px;left:160.80px;transform-origin:0 50%;transform:scaleX(0.970);">3</div>
<div class="t d" style="top:799px;font-size:15.5px;right:979.60px;transform-origin:100% 50%;transform:scaleX(0.970);">20</div>
<div class="t d" style="top:799px;font-size:15.5px;right:908.30px;transform-origin:100% 50%;transform:scaleX(0.970);">19,0</div>
<div class="t d" style="top:799px;font-size:15.5px;right:849.40px;transform-origin:100% 50%;transform:scaleX(0.970);">104</div>
<div class="t d" style="top:799px;font-size:15.5px;right:784.10px;transform-origin:100% 50%;transform:scaleX(0.970);">38</div>
<div class="t d" style="top:799px;font-size:15.5px;right:718.50px;transform-origin:100% 50%;transform:scaleX(0.970);">54</div>
<div class="t d" style="top:799px;font-size:15.5px;left:534.60px;transform-origin:0 50%;transform:scaleX(0.970);">4</div>
<div class="t c cb" style="top:799px;font-size:15.5px;left:822.20px;transform-origin:0 50%;transform:scaleX(0.970);"><i>0</i> 8647020<b>30</b>1<i class="z">00</i></div>
<div class="t f" style="top:833px;font-size:15.8px;left:70.00px;transform-origin:0 50%;transform:scaleX(0.938);" id="f1"><em><span style="font-size:9.5px;position:relative;top:-4.6px">(1)</span>&nbsp;GFK: glasfaser-verst&auml;rkte Kunststoffe</em> | GRP: glass-fibre reinforced plastics | FRP: plastica rinforzata con fibra di vetro</div>
<div class="t f" style="top:858px;font-size:15.8px;left:70.40px;transform-origin:0 50%;transform:scaleX(0.944);"><em>Optional ohne Aufpreis auch mit Weldon-Schaft (DIN 6535-HB) lieferbar.</em> | Also available with Weldon-shank (DIN 6535-HB) without extra charge. |</div>
<div class="t f" style="top:878px;font-size:15.8px;left:70.40px;transform-origin:0 50%;transform:scaleX(0.938);">Anche disponibili con attacco Weldon (DIN 6535-HB) senza prezzo aggiuntivo.</div>
</div></body></html>
